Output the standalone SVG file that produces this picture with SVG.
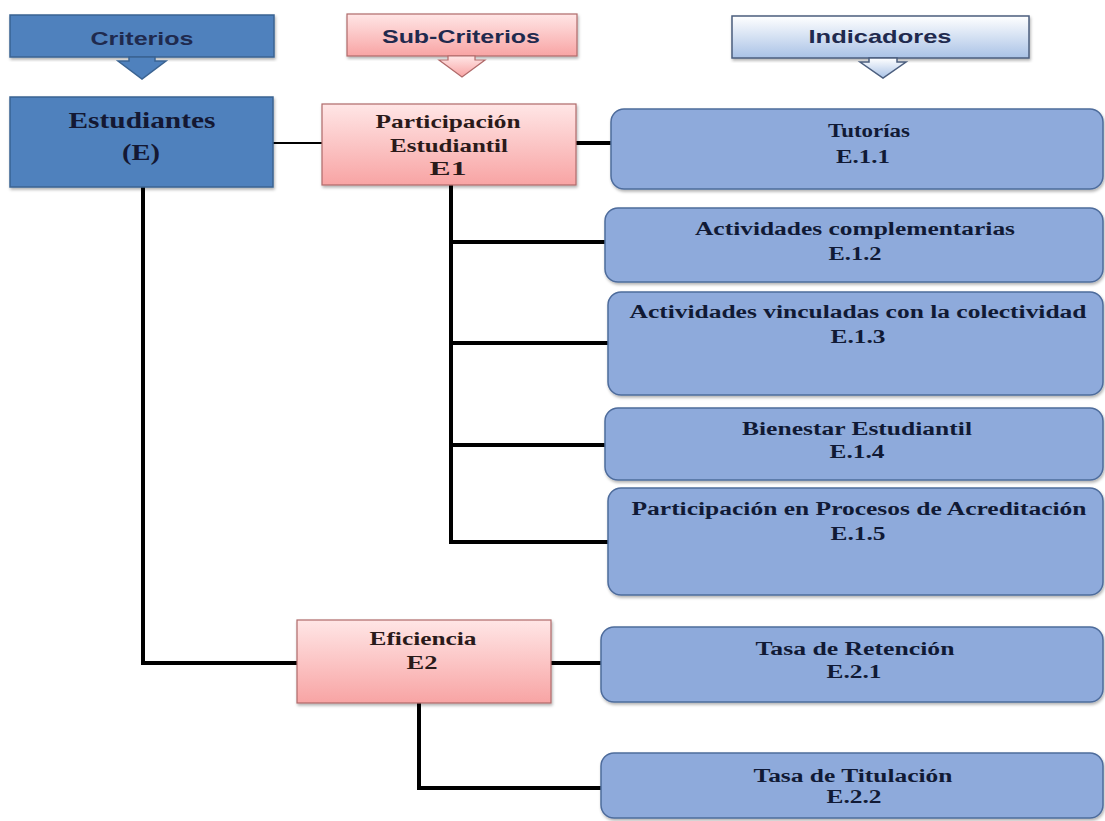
<svg xmlns="http://www.w3.org/2000/svg" width="1105" height="821" viewBox="0 0 1105 821">
<defs>
<linearGradient id="pink" x1="0" y1="0" x2="0" y2="1"><stop offset="0" stop-color="#FFE6E6"/><stop offset="1" stop-color="#F8A4A4"/></linearGradient>
<linearGradient id="lblue" x1="0" y1="0" x2="0" y2="1"><stop offset="0" stop-color="#FFFFFF"/><stop offset="1" stop-color="#A9C2E6"/></linearGradient>
<filter id="sh" x="-5%" y="-5%" width="110%" height="115%"><feDropShadow dx="1" dy="2" stdDeviation="1.5" flood-color="#000" flood-opacity="0.3"/></filter>
</defs>
<style>
.hdr{font-family:"Liberation Sans",Arial,sans-serif;font-weight:bold;font-size:19px;fill:#1F2A4E;text-anchor:middle}
.t{font-family:"Liberation Serif","Times New Roman",serif;font-weight:bold;font-size:18px;fill:#111a35;text-anchor:middle}
.tp{font-family:"Liberation Serif","Times New Roman",serif;font-weight:bold;font-size:19px;fill:#2a1a1a;text-anchor:middle}
.tb{font-family:"Liberation Serif","Times New Roman",serif;font-weight:bold;font-size:24px;fill:#141833;text-anchor:middle}
.blue{fill:#4F81BD;stroke:#3A6392;stroke-width:1.5}
.pk{fill:url(#pink);stroke:#B06A6A;stroke-width:1.2}
.lb{fill:url(#lblue);stroke:#4B5E7E;stroke-width:1.5}
.ind{fill:#8EAADB;stroke:#4E6C9C;stroke-width:1.5}
.thick{stroke:#000;stroke-width:4;fill:none}
.thin{stroke:#000;stroke-width:2;fill:none}
</style>
<rect width="1105" height="821" fill="#fff"/>

<g id="connectors">
<line class="thin" x1="273" y1="143" x2="322" y2="143"/>
<line class="thick" x1="576" y1="143" x2="611" y2="143"/>
<polyline class="thick" points="143,187 143,663 297,663"/>
<line class="thick" x1="451" y1="185" x2="451" y2="542"/>
<line class="thick" x1="451" y1="242" x2="605" y2="242"/>
<line class="thick" x1="451" y1="343" x2="608" y2="343"/>
<line class="thick" x1="451" y1="445" x2="608" y2="445"/>
<line class="thick" x1="449" y1="542" x2="608" y2="542"/>
<line class="thick" x1="551" y1="663" x2="601" y2="663"/>
<polyline class="thick" points="419,703 419,788 601,788"/>
</g>

<g id="hdr-criterios">
<rect class="blue" x="10" y="15" width="264" height="42" filter="url(#sh)"/>
<polygon class="blue" points="129,57 155,57 155,61 166,61 142,79 118,61 129,61"/>
<text class="hdr" x="142" y="45" textLength="103" lengthAdjust="spacingAndGlyphs">Criterios</text>
</g>
<g id="hdr-subcriterios">
<rect class="pk" x="347" y="14" width="230" height="42" filter="url(#sh)"/>
<polygon class="pk" points="448,56 475,56 475,60 485,60 462,77 439,60 448,60"/>
<text class="hdr" x="461" y="43" textLength="158" lengthAdjust="spacingAndGlyphs">Sub-Criterios</text>
</g>
<g id="hdr-indicadores">
<rect class="lb" x="732" y="16" width="297" height="42" filter="url(#sh)"/>
<polygon class="lb" points="869,58 897,58 897,62 906,62 883,78 860,62 869,62"/>
<text class="hdr" x="880" y="43" textLength="143" lengthAdjust="spacingAndGlyphs">Indicadores</text>
</g>

<g id="estudiantes">
<rect class="blue" x="10" y="97" width="263" height="90" filter="url(#sh)"/>
<text class="tb" x="142" y="128" textLength="147" lengthAdjust="spacingAndGlyphs">Estudiantes</text>
<text class="tb" x="141" y="160" textLength="38" lengthAdjust="spacingAndGlyphs">(E)</text>
</g>

<g id="e1">
<rect class="pk" x="322" y="104" width="254" height="81" filter="url(#sh)"/>
<text class="tp" x="448" y="128" textLength="145" lengthAdjust="spacingAndGlyphs">Participación</text>
<text class="tp" x="449" y="152" textLength="118" lengthAdjust="spacingAndGlyphs">Estudiantil</text>
<text class="tp" x="448" y="175" textLength="37" lengthAdjust="spacingAndGlyphs">E1</text>
</g>

<g id="e2">
<rect class="pk" x="297" y="620" width="254" height="83" filter="url(#sh)"/>
<text class="tp" x="423" y="645" textLength="107" lengthAdjust="spacingAndGlyphs">Eficiencia</text>
<text class="tp" x="422" y="669" textLength="31" lengthAdjust="spacingAndGlyphs">E2</text>
</g>

<g id="e11">
<rect class="ind" x="611" y="109" width="492" height="80" rx="13" filter="url(#sh)"/>
<text class="t" x="869" y="137" textLength="82" lengthAdjust="spacingAndGlyphs">Tutorías</text>
<text class="t" x="863" y="163" textLength="54" lengthAdjust="spacingAndGlyphs">E.1.1</text>
</g>
<g id="e12">
<rect class="ind" x="605" y="208" width="498" height="74" rx="13" filter="url(#sh)"/>
<text class="t" x="855" y="235" textLength="320" lengthAdjust="spacingAndGlyphs">Actividades complementarias</text>
<text class="t" x="855" y="260" textLength="53" lengthAdjust="spacingAndGlyphs">E.1.2</text>
</g>
<g id="e13">
<rect class="ind" x="608" y="292" width="495" height="103" rx="13" filter="url(#sh)"/>
<text class="t" x="858" y="318" textLength="457" lengthAdjust="spacingAndGlyphs">Actividades vinculadas con la colectividad</text>
<text class="t" x="858" y="343" textLength="55" lengthAdjust="spacingAndGlyphs">E.1.3</text>
</g>
<g id="e14">
<rect class="ind" x="605" y="408" width="498" height="72" rx="13" filter="url(#sh)"/>
<text class="t" x="857" y="435" textLength="230" lengthAdjust="spacingAndGlyphs">Bienestar Estudiantil</text>
<text class="t" x="857" y="458" textLength="55" lengthAdjust="spacingAndGlyphs">E.1.4</text>
</g>
<g id="e15">
<rect class="ind" x="608" y="488" width="495" height="107" rx="13" filter="url(#sh)"/>
<text class="t" x="859" y="515" textLength="455" lengthAdjust="spacingAndGlyphs">Participación en Procesos de Acreditación</text>
<text class="t" x="858" y="540" textLength="55" lengthAdjust="spacingAndGlyphs">E.1.5</text>
</g>
<g id="e21">
<rect class="ind" x="601" y="627" width="502" height="75" rx="13" filter="url(#sh)"/>
<text class="t" x="855" y="655" textLength="199" lengthAdjust="spacingAndGlyphs">Tasa de Retención</text>
<text class="t" x="854" y="678" textLength="55" lengthAdjust="spacingAndGlyphs">E.2.1</text>
</g>
<g id="e22">
<rect class="ind" x="601" y="753" width="502" height="65" rx="13" filter="url(#sh)"/>
<text class="t" x="853" y="782" textLength="199" lengthAdjust="spacingAndGlyphs">Tasa de Titulación</text>
<text class="t" x="854" y="803" textLength="55" lengthAdjust="spacingAndGlyphs">E.2.2</text>
</g>
</svg>
